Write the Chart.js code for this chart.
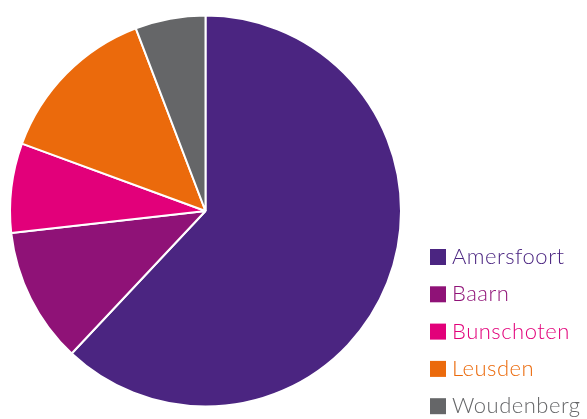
<!DOCTYPE html>
<html><head><meta charset="utf-8">
<script src="https://cdn.jsdelivr.net/npm/chart.js@4/dist/chart.umd.min.js"></script>
<style>html,body{margin:0;padding:0;background:#fff}#wrap{width:587px;height:419px;position:relative}</style>
</head><body>
<div id="wrap"><canvas id="c"></canvas></div>
<script>
const categories = ["Amersfoort", "Baarn", "Bunschoten", "Leusden", "Woudenberg"];
const shares = [62.0, 11.2, 7.4, 13.6, 5.8];
const colors = ["#4B2581", "#8F1277", "#E2007A", "#EB6A0C", "#656668"];

const legendPlugin = {
  id: 'sideLegend',
  afterDraw(chart) {
    const ctx = chart.ctx;
    ctx.save();
    ctx.font = '300 22px Lato';
    try { ctx.letterSpacing = '0.5px'; } catch (e) {}
    ctx.textBaseline = 'alphabetic';
    const x0 = 430, y0 = 249, step = 37.3, box = 16;
    chart.data.labels.forEach((lab, i) => {
      const y = y0 + i * step;
      ctx.fillStyle = chart.data.datasets[0].backgroundColor[i];
      ctx.fillRect(x0, y, box, box);
      ctx.fillText(lab, 452, y + 15);
    });
    ctx.restore();
  }
};

new Chart(document.getElementById('c'), {
  type: 'pie',
  data: {
    labels: categories,
    datasets: [{
      data: shares,
      backgroundColor: colors,
      borderColor: '#ffffff',
      borderWidth: 2
    }]
  },
  options: {
    responsive: true,
    maintainAspectRatio: false,
    animation: false,
    layout: { padding: { left: 9, right: 185, top: 13, bottom: 10 } },
    plugins: { legend: { display: false }, tooltip: { enabled: false } }
  },
  plugins: [legendPlugin]
});
</script>
</body></html>
